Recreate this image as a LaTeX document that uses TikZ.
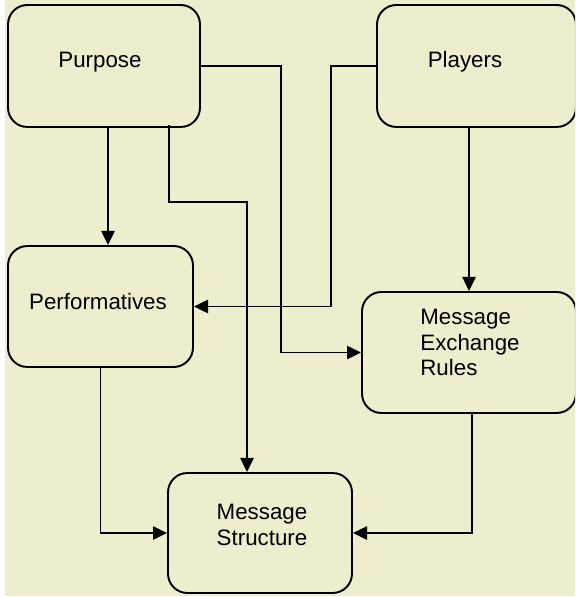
\documentclass[tikz,border=0pt]{standalone}
\usepackage{fontspec}
\setmainfont{Liberation Sans}
\usetikzlibrary{arrows.meta}
\definecolor{paper}{RGB}{238,237,206}

\begin{document}
\begin{tikzpicture}[x=0.02cm,y=-0.02cm,
    box/.style={draw=black,line width=1.1pt,rounded corners=11pt,minimum height=2.42cm,inner sep=0pt},
    txt/.style={font=\fontsize{12.7}{14.6}\selectfont,inner sep=0pt,align=left},
    arr/.style={line width=1.1pt,-{Triangle[length=8pt,width=7.5pt]}}]
	\useasboundingbox (0,0) rectangle (575,597);
	\clip (0,0) rectangle (575,597);
	\fill [paper] (5,0) rectangle (575,596);
	\node [box,minimum width=3.84cm,minimum height=2.44cm] (purpose) at (104,66) {};
	\node [txt] (purposetxt) at (100,62) {Purpose};
	\node [box,minimum width=3.98cm,minimum height=2.44cm] (players) at (476.5,66) {};
	\node [txt] (playerstxt) at (465,62) {Players};
	\node [box,minimum width=3.70cm] (perf) at (100.5,306.5) {};
	\node [txt] (perftxt) at (98,302) {Performatives};
	\node [box,minimum width=4.28cm] (rules) at (469,352.5) {};
	\node [txt] (rulestxt) at (470,342.5) {Message\\Exchange\\Rules};
	\node [box,minimum width=3.68cm,minimum height=2.40cm] (struct) at (260,533) {};
	\node [txt,align=center] (structtxt) at (262,525) {Message\\Structure};
	\coordinate (k1) at (281,200);
	\coordinate (k2) at (331,200);
	\coordinate (k3) at (169,202);
	\coordinate (k4) at (247,202);
	\coordinate (k5) at (469,200);
	\coordinate (k6) at (472,450);
	\coordinate (k7) at (108,200);
	\draw [arr] (purpose.south -| k7) -- (perf.north -| k7);
	\draw [arr] (purpose.east) -| (k1) |- (rules.west);
	\draw [arr] (players.west) -| (k2) |- (perf.east);
	\draw [arr] ([yshift=0.06cm]purpose.south -| k3) -- (k3) -- (k4) -- (struct.north -| k4);
	\draw [arr] (players.south -| k5) -- (rules.north -| k5);
	\draw [arr] (perf.south) |- (struct.west);
	\draw [arr] (rules.south -| k6) |- (struct.east);
\end{tikzpicture}
\end{document}
